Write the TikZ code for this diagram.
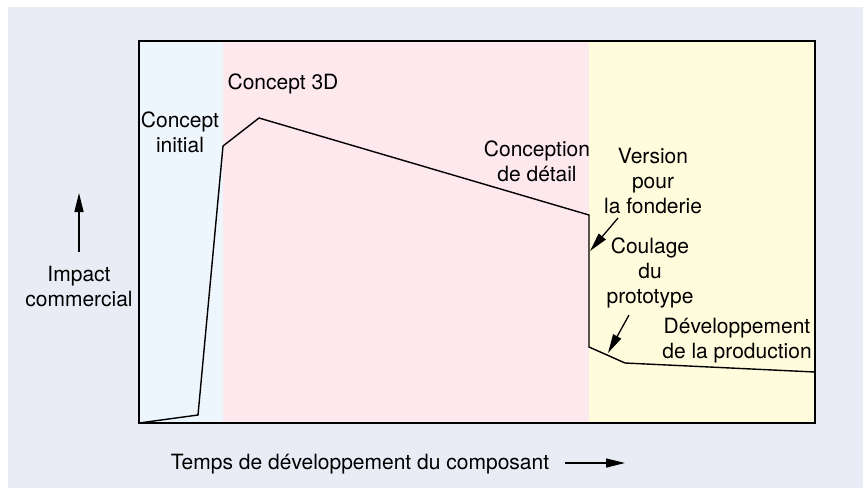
\documentclass[tikz,border=0pt]{standalone}
\usepackage{fontspec}
\setmainfont{TeX Gyre Heros}
\usetikzlibrary{arrows.meta}
\definecolor{bgback}{RGB}{234,236,245}
\definecolor{phaseblue}{RGB}{237,245,253}
\definecolor{phasepink}{RGB}{252,232,237}
\definecolor{phaseyellow}{RGB}{254,252,220}
\tikzset{
	lbl/.style={inner sep=0pt, align=center, font=\fontsize{21}{25}\selectfont},
	curve/.style={line width=1.4pt, line join=miter},
	pointer/.style={line width=1.3pt, -{Triangle[length=19pt,width=9pt]}}
}

\begin{document}
\begin{tikzpicture}[x=1pt, y=-1pt]
			%%%%% START %%%%%
			\useasboundingbox (0, 0) rectangle (866, 488);
			\fill[bgback] (8, 7) rectangle (863, 488);
			
			\fill[phaseblue] (139, 41) rectangle (223, 423);
			\fill[phasepink] (223, 41) rectangle (589, 423);
			\fill[phaseyellow] (589, 41) rectangle (815, 423);
			\draw[line width=1.4pt] (139, 41) rectangle (815, 423);
			
			\coordinate (p0) at (139, 423);
			\coordinate (p1) at (198, 415);
			\coordinate (p2) at (223, 146);
			\coordinate (p3) at (259, 118);
			\coordinate (p4) at (589, 215);
			\coordinate (p5) at (589, 347);
			\coordinate (p6) at (625, 363);
			\coordinate (p7) at (815, 372);
			\draw[curve] (p0) -- (p1) -- (p2) -- (p3) -- (p4) -- (p5) -- (p6) -- (p7);
			
			\node[lbl] (cinit) at (180, 132) {Concept\\initial};
			\node[lbl] (c3d) at (283, 84) {Concept 3D};
			\node[lbl] (cdet) at (537, 161) {Conception\\de détail};
			\node[lbl] (vers) at (653, 181) {Version\\pour\\la fonderie};
			\node[lbl] (coul) at (650, 273) {Coulage\\du\\prototype};
			\node[lbl] (dev) at (737, 341) {Développement\\de la production};
			
			\coordinate (vtail) at (618, 218);
			\coordinate (vtip) at (590, 251);
			\draw[pointer] (vtail) -- (vtip);
			\coordinate (ctail) at (629, 315);
			\coordinate (ctip) at (608, 353);
			\draw[pointer] (ctail) -- (ctip);
			
			% axes
			\node[lbl] (impact) at (79, 286) {Impact\\commercial};
			\coordinate (ytail) at (79, 252);
			\coordinate (ytip) at (79, 193);
			\draw[pointer] (ytail) -- (ytip);
			
			\node[lbl] (temps) at (360, 464) {Temps de développement du composant};
			\coordinate (xtail) at (565, 463);
			\coordinate (xtip) at (625, 463);
			\draw[pointer] (xtail) -- (xtip);
			%%%%% END %%%%%
\end{tikzpicture}
\end{document}
